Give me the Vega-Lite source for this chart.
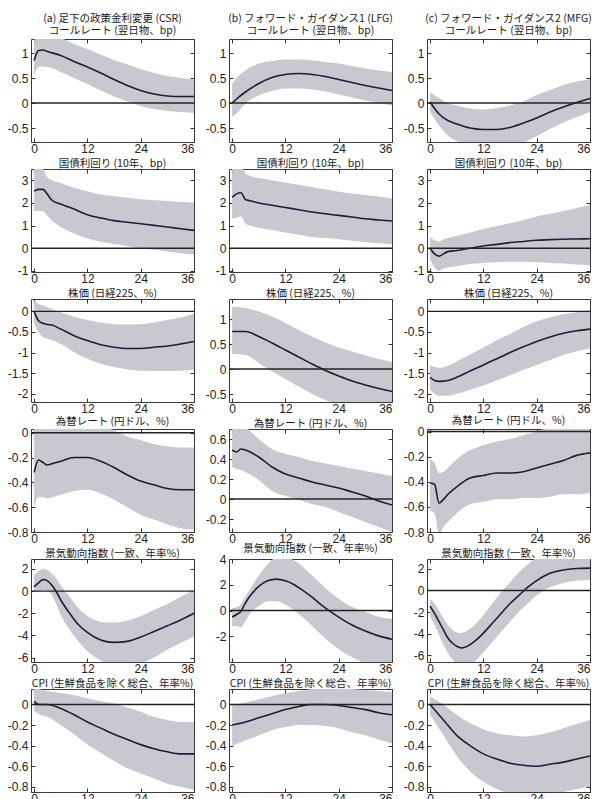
{
"$schema": "https://vega.github.io/schema/vega-lite/v6.json",
"padding": {"left": 6, "top": 13, "right": 0, "bottom": 0},
"bounds": "flush",
"data": {"values": [
{"p":"a1","m":0,"y":0.85,"lo":0.55,"hi":1.25},{"p":"a1","m":1,"y":1.05,"lo":0.72,"hi":1.35},{"p":"a1","m":2,"y":1.06,"lo":0.73,"hi":1.36},{"p":"a1","m":3,"y":1.03,"lo":0.72,"hi":1.35},{"p":"a1","m":6,"y":0.95,"lo":0.62,"hi":1.3},{"p":"a1","m":9,"y":0.83,"lo":0.5,"hi":1.18},{"p":"a1","m":12,"y":0.72,"lo":0.38,"hi":1.08},{"p":"a1","m":15,"y":0.6,"lo":0.25,"hi":0.97},{"p":"a1","m":18,"y":0.47,"lo":0.13,"hi":0.86},{"p":"a1","m":21,"y":0.35,"lo":0.03,"hi":0.77},{"p":"a1","m":24,"y":0.25,"lo":-0.06,"hi":0.68},{"p":"a1","m":27,"y":0.18,"lo":-0.12,"hi":0.6},{"p":"a1","m":30,"y":0.14,"lo":-0.16,"hi":0.54},{"p":"a1","m":33,"y":0.13,"lo":-0.18,"hi":0.5},{"p":"a1","m":36,"y":0.13,"lo":-0.2,"hi":0.47},
{"p":"b1","m":0,"y":0,"lo":-0.28,"hi":0.39},{"p":"b1","m":1,"y":0.08,"lo":-0.21,"hi":0.5},{"p":"b1","m":3,"y":0.22,"lo":-0.01,"hi":0.65},{"p":"b1","m":6,"y":0.39,"lo":0.15,"hi":0.79},{"p":"b1","m":9,"y":0.51,"lo":0.24,"hi":0.84},{"p":"b1","m":12,"y":0.57,"lo":0.29,"hi":0.87},{"p":"b1","m":15,"y":0.59,"lo":0.29,"hi":0.87},{"p":"b1","m":18,"y":0.57,"lo":0.27,"hi":0.85},{"p":"b1","m":21,"y":0.53,"lo":0.23,"hi":0.82},{"p":"b1","m":24,"y":0.47,"lo":0.17,"hi":0.79},{"p":"b1","m":27,"y":0.41,"lo":0.11,"hi":0.74},{"p":"b1","m":30,"y":0.35,"lo":0.05,"hi":0.69},{"p":"b1","m":33,"y":0.3,"lo":0.0,"hi":0.65},{"p":"b1","m":36,"y":0.25,"lo":-0.05,"hi":0.62},
{"p":"c1","m":0,"y":0.02,"lo":-0.18,"hi":0.21},{"p":"c1","m":2,"y":-0.22,"lo":-0.45,"hi":0.1},{"p":"c1","m":4,"y":-0.35,"lo":-0.65,"hi":0.0},{"p":"c1","m":6,"y":-0.42,"lo":-0.76,"hi":-0.05},{"p":"c1","m":9,"y":-0.5,"lo":-0.85,"hi":-0.11},{"p":"c1","m":12,"y":-0.53,"lo":-0.9,"hi":-0.13},{"p":"c1","m":15,"y":-0.53,"lo":-0.9,"hi":-0.1},{"p":"c1","m":18,"y":-0.49,"lo":-0.86,"hi":-0.05},{"p":"c1","m":21,"y":-0.4,"lo":-0.79,"hi":0.03},{"p":"c1","m":24,"y":-0.3,"lo":-0.66,"hi":0.16},{"p":"c1","m":27,"y":-0.18,"lo":-0.52,"hi":0.26},{"p":"c1","m":30,"y":-0.08,"lo":-0.39,"hi":0.36},{"p":"c1","m":33,"y":0.01,"lo":-0.28,"hi":0.43},{"p":"c1","m":36,"y":0.09,"lo":-0.18,"hi":0.48},
{"p":"a2","m":0,"y":2.52,"lo":1.65,"hi":3.6},{"p":"a2","m":1,"y":2.6,"lo":1.65,"hi":3.6},{"p":"a2","m":2,"y":2.6,"lo":1.65,"hi":3.5},{"p":"a2","m":3,"y":2.38,"lo":1.44,"hi":3.12},{"p":"a2","m":4,"y":2.12,"lo":1.22,"hi":3.0},{"p":"a2","m":6,"y":1.95,"lo":0.94,"hi":2.88},{"p":"a2","m":9,"y":1.73,"lo":0.65,"hi":2.67},{"p":"a2","m":12,"y":1.48,"lo":0.43,"hi":2.52},{"p":"a2","m":15,"y":1.34,"lo":0.29,"hi":2.37},{"p":"a2","m":18,"y":1.22,"lo":0.19,"hi":2.3},{"p":"a2","m":21,"y":1.15,"lo":0.1,"hi":2.23},{"p":"a2","m":24,"y":1.08,"lo":0.0,"hi":2.16},{"p":"a2","m":27,"y":1.01,"lo":-0.07,"hi":2.12},{"p":"a2","m":30,"y":0.94,"lo":-0.14,"hi":2.09},{"p":"a2","m":33,"y":0.86,"lo":-0.22,"hi":2.05},{"p":"a2","m":36,"y":0.79,"lo":-0.29,"hi":2.01},
{"p":"b2","m":0,"y":2.25,"lo":1.3,"hi":3.6},{"p":"b2","m":1,"y":2.4,"lo":1.35,"hi":3.6},{"p":"b2","m":2,"y":2.45,"lo":1.4,"hi":3.6},{"p":"b2","m":3,"y":2.15,"lo":1.1,"hi":3.3},{"p":"b2","m":4,"y":2.1,"lo":1.0,"hi":3.2},{"p":"b2","m":6,"y":2.0,"lo":0.9,"hi":3.1},{"p":"b2","m":9,"y":1.9,"lo":0.8,"hi":3.0},{"p":"b2","m":12,"y":1.8,"lo":0.7,"hi":2.9},{"p":"b2","m":15,"y":1.7,"lo":0.6,"hi":2.8},{"p":"b2","m":18,"y":1.6,"lo":0.5,"hi":2.7},{"p":"b2","m":21,"y":1.52,"lo":0.45,"hi":2.6},{"p":"b2","m":24,"y":1.45,"lo":0.4,"hi":2.5},{"p":"b2","m":27,"y":1.38,"lo":0.33,"hi":2.42},{"p":"b2","m":30,"y":1.3,"lo":0.28,"hi":2.35},{"p":"b2","m":33,"y":1.25,"lo":0.22,"hi":2.28},{"p":"b2","m":36,"y":1.2,"lo":0.17,"hi":2.2},
{"p":"c2","m":0,"y":0.0,"lo":-0.5,"hi":0.5},{"p":"c2","m":1,"y":-0.25,"lo":-0.85,"hi":0.35},{"p":"c2","m":2,"y":-0.35,"lo":-1.0,"hi":0.3},{"p":"c2","m":3,"y":-0.25,"lo":-0.9,"hi":0.4},{"p":"c2","m":4,"y":-0.15,"lo":-0.85,"hi":0.45},{"p":"c2","m":6,"y":-0.1,"lo":-0.8,"hi":0.55},{"p":"c2","m":9,"y":0.0,"lo":-0.7,"hi":0.7},{"p":"c2","m":12,"y":0.1,"lo":-0.65,"hi":0.85},{"p":"c2","m":15,"y":0.17,"lo":-0.62,"hi":0.98},{"p":"c2","m":18,"y":0.25,"lo":-0.6,"hi":1.1},{"p":"c2","m":21,"y":0.3,"lo":-0.6,"hi":1.25},{"p":"c2","m":24,"y":0.35,"lo":-0.62,"hi":1.4},{"p":"c2","m":27,"y":0.38,"lo":-0.65,"hi":1.52},{"p":"c2","m":30,"y":0.4,"lo":-0.68,"hi":1.65},{"p":"c2","m":33,"y":0.41,"lo":-0.72,"hi":1.78},{"p":"c2","m":36,"y":0.42,"lo":-0.75,"hi":1.9},
{"p":"a3","m":0,"y":0,"lo":-0.27,"hi":0.26},{"p":"a3","m":1,"y":-0.23,"lo":-0.51,"hi":0.18},{"p":"a3","m":2,"y":-0.29,"lo":-0.63,"hi":0.14},{"p":"a3","m":3,"y":-0.32,"lo":-0.67,"hi":0.1},{"p":"a3","m":4,"y":-0.33,"lo":-0.7,"hi":0.06},{"p":"a3","m":6,"y":-0.43,"lo":-0.79,"hi":-0.02},{"p":"a3","m":9,"y":-0.59,"lo":-0.99,"hi":-0.13},{"p":"a3","m":12,"y":-0.71,"lo":-1.15,"hi":-0.21},{"p":"a3","m":15,"y":-0.81,"lo":-1.27,"hi":-0.27},{"p":"a3","m":18,"y":-0.87,"lo":-1.35,"hi":-0.31},{"p":"a3","m":21,"y":-0.9,"lo":-1.41,"hi":-0.32},{"p":"a3","m":24,"y":-0.9,"lo":-1.44,"hi":-0.31},{"p":"a3","m":27,"y":-0.87,"lo":-1.45,"hi":-0.27},{"p":"a3","m":30,"y":-0.84,"lo":-1.45,"hi":-0.21},{"p":"a3","m":33,"y":-0.79,"lo":-1.44,"hi":-0.15},{"p":"a3","m":36,"y":-0.73,"lo":-1.42,"hi":-0.05},
{"p":"b3","m":0,"y":0.75,"lo":0.3,"hi":1.25},{"p":"b3","m":3,"y":0.75,"lo":0.28,"hi":1.22},{"p":"b3","m":6,"y":0.65,"lo":0.12,"hi":1.15},{"p":"b3","m":9,"y":0.52,"lo":-0.05,"hi":1.05},{"p":"b3","m":12,"y":0.38,"lo":-0.2,"hi":0.92},{"p":"b3","m":15,"y":0.24,"lo":-0.35,"hi":0.78},{"p":"b3","m":18,"y":0.1,"lo":-0.5,"hi":0.65},{"p":"b3","m":21,"y":-0.03,"lo":-0.62,"hi":0.53},{"p":"b3","m":24,"y":-0.14,"lo":-0.74,"hi":0.43},{"p":"b3","m":27,"y":-0.24,"lo":-0.84,"hi":0.35},{"p":"b3","m":30,"y":-0.32,"lo":-0.92,"hi":0.27},{"p":"b3","m":33,"y":-0.39,"lo":-0.98,"hi":0.2},{"p":"b3","m":36,"y":-0.45,"lo":-1.04,"hi":0.14},
{"p":"c3","m":0,"y":-1.6,"lo":-1.9,"hi":-1.3},{"p":"c3","m":1,"y":-1.68,"lo":-2.0,"hi":-1.35},{"p":"c3","m":2,"y":-1.7,"lo":-2.05,"hi":-1.37},{"p":"c3","m":4,"y":-1.68,"lo":-2.05,"hi":-1.32},{"p":"c3","m":6,"y":-1.6,"lo":-2.0,"hi":-1.22},{"p":"c3","m":9,"y":-1.45,"lo":-1.9,"hi":-1.05},{"p":"c3","m":12,"y":-1.3,"lo":-1.8,"hi":-0.88},{"p":"c3","m":15,"y":-1.15,"lo":-1.68,"hi":-0.7},{"p":"c3","m":18,"y":-1.0,"lo":-1.55,"hi":-0.55},{"p":"c3","m":21,"y":-0.86,"lo":-1.42,"hi":-0.38},{"p":"c3","m":24,"y":-0.73,"lo":-1.3,"hi":-0.24},{"p":"c3","m":27,"y":-0.62,"lo":-1.18,"hi":-0.14},{"p":"c3","m":30,"y":-0.53,"lo":-1.06,"hi":-0.07},{"p":"c3","m":33,"y":-0.47,"lo":-0.97,"hi":-0.02},{"p":"c3","m":36,"y":-0.43,"lo":-0.9,"hi":0.02},
{"p":"a4","m":0,"y":-0.32,"lo":-0.6,"hi":0.06},{"p":"a4","m":1,"y":-0.22,"lo":-0.52,"hi":0.06},{"p":"a4","m":2,"y":-0.24,"lo":-0.52,"hi":0.06},{"p":"a4","m":3,"y":-0.26,"lo":-0.53,"hi":0.06},{"p":"a4","m":4,"y":-0.25,"lo":-0.52,"hi":0.06},{"p":"a4","m":6,"y":-0.23,"lo":-0.5,"hi":0.06},{"p":"a4","m":9,"y":-0.2,"lo":-0.47,"hi":0.06},{"p":"a4","m":12,"y":-0.2,"lo":-0.46,"hi":0.06},{"p":"a4","m":15,"y":-0.23,"lo":-0.49,"hi":0.05},{"p":"a4","m":18,"y":-0.28,"lo":-0.54,"hi":0.02},{"p":"a4","m":21,"y":-0.34,"lo":-0.6,"hi":-0.03},{"p":"a4","m":24,"y":-0.39,"lo":-0.66,"hi":-0.06},{"p":"a4","m":27,"y":-0.42,"lo":-0.7,"hi":-0.09},{"p":"a4","m":30,"y":-0.45,"lo":-0.74,"hi":-0.11},{"p":"a4","m":33,"y":-0.46,"lo":-0.77,"hi":-0.12},{"p":"a4","m":36,"y":-0.46,"lo":-0.78,"hi":-0.12},
{"p":"b4","m":0,"y":0.49,"lo":0.32,"hi":0.75},{"p":"b4","m":1,"y":0.47,"lo":0.3,"hi":0.75},{"p":"b4","m":2,"y":0.5,"lo":0.29,"hi":0.75},{"p":"b4","m":3,"y":0.49,"lo":0.27,"hi":0.72},{"p":"b4","m":6,"y":0.42,"lo":0.19,"hi":0.6},{"p":"b4","m":9,"y":0.32,"lo":0.08,"hi":0.5},{"p":"b4","m":12,"y":0.25,"lo":0.03,"hi":0.45},{"p":"b4","m":15,"y":0.21,"lo":-0.01,"hi":0.42},{"p":"b4","m":18,"y":0.17,"lo":-0.05,"hi":0.38},{"p":"b4","m":21,"y":0.14,"lo":-0.08,"hi":0.355},{"p":"b4","m":24,"y":0.11,"lo":-0.13,"hi":0.33},{"p":"b4","m":27,"y":0.07,"lo":-0.18,"hi":0.305},{"p":"b4","m":30,"y":0.03,"lo":-0.23,"hi":0.28},{"p":"b4","m":33,"y":-0.02,"lo":-0.28,"hi":0.255},{"p":"b4","m":36,"y":-0.06,"lo":-0.33,"hi":0.23},
{"p":"c4","m":0,"y":-0.41,"lo":-0.63,"hi":-0.22},{"p":"c4","m":1,"y":-0.42,"lo":-0.65,"hi":-0.25},{"p":"c4","m":2,"y":-0.57,"lo":-0.82,"hi":-0.33},{"p":"c4","m":3,"y":-0.54,"lo":-0.76,"hi":-0.32},{"p":"c4","m":4,"y":-0.5,"lo":-0.72,"hi":-0.29},{"p":"c4","m":6,"y":-0.44,"lo":-0.65,"hi":-0.22},{"p":"c4","m":9,"y":-0.37,"lo":-0.58,"hi":-0.15},{"p":"c4","m":12,"y":-0.35,"lo":-0.56,"hi":-0.11},{"p":"c4","m":15,"y":-0.33,"lo":-0.54,"hi":-0.08},{"p":"c4","m":18,"y":-0.33,"lo":-0.54,"hi":-0.06},{"p":"c4","m":21,"y":-0.32,"lo":-0.53,"hi":-0.03},{"p":"c4","m":24,"y":-0.29,"lo":-0.53,"hi":0.0},{"p":"c4","m":27,"y":-0.26,"lo":-0.52,"hi":0.03},{"p":"c4","m":30,"y":-0.23,"lo":-0.5,"hi":0.03},{"p":"c4","m":33,"y":-0.19,"lo":-0.5,"hi":0.03},{"p":"c4","m":36,"y":-0.17,"lo":-0.49,"hi":0.03},
{"p":"a5","m":0,"y":0.39,"lo":-0.06,"hi":1.43},{"p":"a5","m":1,"y":0.75,"lo":-0.06,"hi":1.82},{"p":"a5","m":2,"y":1.05,"lo":0.09,"hi":2.03},{"p":"a5","m":3,"y":0.93,"lo":0.03,"hi":1.88},{"p":"a5","m":4,"y":0.54,"lo":-0.36,"hi":1.58},{"p":"a5","m":5,"y":-0.06,"lo":-1.2,"hi":1.13},{"p":"a5","m":6,"y":-0.8,"lo":-2.15,"hi":0.54},{"p":"a5","m":8,"y":-2.0,"lo":-3.49,"hi":-0.51},{"p":"a5","m":10,"y":-3.04,"lo":-4.54,"hi":-1.55},{"p":"a5","m":12,"y":-3.73,"lo":-5.43,"hi":-2.24},{"p":"a5","m":14,"y":-4.24,"lo":-6.03,"hi":-2.66},{"p":"a5","m":16,"y":-4.54,"lo":-6.5,"hi":-2.84},{"p":"a5","m":18,"y":-4.63,"lo":-6.7,"hi":-2.84},{"p":"a5","m":21,"y":-4.54,"lo":-6.7,"hi":-2.66},{"p":"a5","m":24,"y":-4.15,"lo":-6.5,"hi":-2.24},{"p":"a5","m":27,"y":-3.64,"lo":-6.0,"hi":-1.7},{"p":"a5","m":30,"y":-3.13,"lo":-5.28,"hi":-1.16},{"p":"a5","m":33,"y":-2.6,"lo":-4.69,"hi":-0.51},{"p":"a5","m":36,"y":-2.0,"lo":-4.09,"hi":0.09},
{"p":"b5","m":0,"y":-0.51,"lo":-1.21,"hi":0.2},{"p":"b5","m":1,"y":-0.31,"lo":-1.21,"hi":0.26},{"p":"b5","m":2,"y":-0.05,"lo":-1.33,"hi":0.51},{"p":"b5","m":3,"y":0.59,"lo":-0.82,"hi":1.1},{"p":"b5","m":4,"y":1.1,"lo":-0.26,"hi":1.62},{"p":"b5","m":6,"y":1.87,"lo":0.33,"hi":2.72},{"p":"b5","m":8,"y":2.31,"lo":0.72,"hi":3.6},{"p":"b5","m":10,"y":2.44,"lo":0.72,"hi":4.1},{"p":"b5","m":12,"y":2.31,"lo":0.46,"hi":4.1},{"p":"b5","m":14,"y":2.0,"lo":0.0,"hi":3.88},{"p":"b5","m":16,"y":1.54,"lo":-0.56,"hi":3.36},{"p":"b5","m":18,"y":1.03,"lo":-1.21,"hi":2.72},{"p":"b5","m":20,"y":0.46,"lo":-1.85,"hi":2.08},{"p":"b5","m":22,"y":-0.05,"lo":-2.49,"hi":1.44},{"p":"b5","m":24,"y":-0.51,"lo":-3.0,"hi":0.92},{"p":"b5","m":27,"y":-1.13,"lo":-3.64,"hi":0.28},{"p":"b5","m":30,"y":-1.59,"lo":-4.1,"hi":-0.1},{"p":"b5","m":33,"y":-1.97,"lo":-4.3,"hi":-0.49},{"p":"b5","m":36,"y":-2.23,"lo":-4.3,"hi":-0.64},
{"p":"c5","m":0,"y":-1.45,"lo":-2.42,"hi":-0.76},{"p":"c5","m":1,"y":-2.12,"lo":-3.18,"hi":-1.21},{"p":"c5","m":2,"y":-2.88,"lo":-4.09,"hi":-1.88},{"p":"c5","m":3,"y":-3.64,"lo":-5.0,"hi":-2.58},{"p":"c5","m":4,"y":-4.39,"lo":-5.76,"hi":-3.18},{"p":"c5","m":5,"y":-4.85,"lo":-6.36,"hi":-3.6},{"p":"c5","m":6,"y":-5.15,"lo":-6.8,"hi":-3.88},{"p":"c5","m":7,"y":-5.3,"lo":-7.0,"hi":-3.94},{"p":"c5","m":8,"y":-5.21,"lo":-7.0,"hi":-3.79},{"p":"c5","m":10,"y":-4.7,"lo":-6.6,"hi":-3.18},{"p":"c5","m":12,"y":-3.94,"lo":-5.7,"hi":-2.27},{"p":"c5","m":14,"y":-3.03,"lo":-4.75,"hi":-1.21},{"p":"c5","m":16,"y":-2.12,"lo":-3.8,"hi":-0.15},{"p":"c5","m":18,"y":-1.21,"lo":-2.88,"hi":0.76},{"p":"c5","m":20,"y":-0.45,"lo":-1.97,"hi":1.67},{"p":"c5","m":22,"y":0.3,"lo":-1.21,"hi":2.42},{"p":"c5","m":24,"y":0.91,"lo":-0.45,"hi":3.0},{"p":"c5","m":27,"y":1.58,"lo":0.3,"hi":3.2},{"p":"c5","m":30,"y":1.88,"lo":0.67,"hi":3.2},{"p":"c5","m":33,"y":2.03,"lo":0.91,"hi":3.2},{"p":"c5","m":36,"y":2.06,"lo":0.97,"hi":3.2},
{"p":"a6","m":0,"y":0.03,"lo":-0.06,"hi":0.16},{"p":"a6","m":1,"y":0.0,"lo":-0.09,"hi":0.15},{"p":"a6","m":3,"y":0.0,"lo":-0.12,"hi":0.13},{"p":"a6","m":6,"y":-0.04,"lo":-0.2,"hi":0.11},{"p":"a6","m":9,"y":-0.1,"lo":-0.29,"hi":0.09},{"p":"a6","m":12,"y":-0.17,"lo":-0.39,"hi":0.06},{"p":"a6","m":15,"y":-0.23,"lo":-0.47,"hi":0.03},{"p":"a6","m":18,"y":-0.29,"lo":-0.55,"hi":0.01},{"p":"a6","m":21,"y":-0.34,"lo":-0.62,"hi":-0.03},{"p":"a6","m":24,"y":-0.39,"lo":-0.67,"hi":-0.07},{"p":"a6","m":27,"y":-0.43,"lo":-0.72,"hi":-0.12},{"p":"a6","m":30,"y":-0.46,"lo":-0.77,"hi":-0.15},{"p":"a6","m":33,"y":-0.48,"lo":-0.8,"hi":-0.17},{"p":"a6","m":36,"y":-0.48,"lo":-0.83,"hi":-0.17},
{"p":"b6","m":0,"y":-0.2,"lo":-0.4,"hi":0.0},{"p":"b6","m":3,"y":-0.17,"lo":-0.35,"hi":0.02},{"p":"b6","m":6,"y":-0.13,"lo":-0.3,"hi":0.05},{"p":"b6","m":9,"y":-0.09,"lo":-0.25,"hi":0.08},{"p":"b6","m":12,"y":-0.05,"lo":-0.22,"hi":0.11},{"p":"b6","m":15,"y":-0.02,"lo":-0.2,"hi":0.13},{"p":"b6","m":18,"y":0.0,"lo":-0.2,"hi":0.15},{"p":"b6","m":21,"y":0.0,"lo":-0.21,"hi":0.16},{"p":"b6","m":24,"y":-0.01,"lo":-0.23,"hi":0.16},{"p":"b6","m":27,"y":-0.03,"lo":-0.27,"hi":0.15},{"p":"b6","m":30,"y":-0.05,"lo":-0.3,"hi":0.14},{"p":"b6","m":33,"y":-0.08,"lo":-0.34,"hi":0.13},{"p":"b6","m":36,"y":-0.1,"lo":-0.38,"hi":0.12},
{"p":"c6","m":0,"y":0.0,"lo":-0.1,"hi":0.08},{"p":"c6","m":3,"y":-0.15,"lo":-0.3,"hi":0.0},{"p":"c6","m":6,"y":-0.3,"lo":-0.5,"hi":-0.1},{"p":"c6","m":9,"y":-0.4,"lo":-0.65,"hi":-0.18},{"p":"c6","m":12,"y":-0.48,"lo":-0.75,"hi":-0.24},{"p":"c6","m":15,"y":-0.53,"lo":-0.82,"hi":-0.28},{"p":"c6","m":18,"y":-0.57,"lo":-0.87,"hi":-0.3},{"p":"c6","m":21,"y":-0.59,"lo":-0.9,"hi":-0.31},{"p":"c6","m":24,"y":-0.6,"lo":-0.9,"hi":-0.3},{"p":"c6","m":27,"y":-0.58,"lo":-0.88,"hi":-0.27},{"p":"c6","m":30,"y":-0.56,"lo":-0.85,"hi":-0.23},{"p":"c6","m":33,"y":-0.53,"lo":-0.82,"hi":-0.19},{"p":"c6","m":36,"y":-0.5,"lo":-0.8,"hi":-0.15}
]},
"columns": 3,
"spacing": {"row": 27, "column": 35},
"concat": [
{"title": {"text": ["(a) 足下の政策金利変更 (CSR)", "コールレート (翌日物、bp)"], "offset": 2}, "transform": [{"filter": "datum.p=='a1'"}], "layer": [
 {"mark": {"type": "area", "color": "#c8c9d0", "clip": true, "interpolate": "monotone"}, "encoding": {"x": {"field": "m", "type": "quantitative", "scale": {"domain": [-0.7, 36], "nice": false}, "axis": {"orient": "bottom", "values": [0, 12, 24, 36], "title": null, "labelPadding": 5}}, "y": {"field": "lo", "type": "quantitative", "scale": {"domain": [-0.78, 1.28], "nice": false, "zero": false}, "axis": {"orient": "left", "values": [-0.5, 0, 0.5, 1], "title": null, "labelExpr": "datum.value+''"}}, "y2": {"field": "hi"}}},
 {"mark": {"type": "line", "color": "#1d1f2e", "strokeWidth": 1.6, "clip": true, "interpolate": "monotone"}, "encoding": {"x": {"field": "m", "type": "quantitative", "axis": {"orient": "top", "values": [0, 12, 24, 36], "labels": false, "title": null, "labelPadding": 0, "minExtent": 0, "maxExtent": 0}}, "y": {"field": "y", "type": "quantitative", "axis": {"orient": "right", "values": [-0.5, 0, 0.5, 1], "labels": false, "title": null, "labelPadding": 0, "minExtent": 0, "maxExtent": 0}}}},
 {"transform": [{"filter": "datum.m==0"}], "mark": {"type": "rule", "color": "#222", "strokeWidth": 1.4}, "encoding": {"y": {"datum": 0, "type": "quantitative", "axis": null}}}
], "resolve": {"axis": {"x": "independent", "y": "independent"}}},
{"title": {"text": ["(b) フォワード・ガイダンス1 (LFG)", "コールレート (翌日物、bp)"], "offset": 2}, "transform": [{"filter": "datum.p=='b1'"}], "layer": [
 {"mark": {"type": "area", "color": "#c8c9d0", "clip": true, "interpolate": "monotone"}, "encoding": {"x": {"field": "m", "type": "quantitative", "scale": {"domain": [-0.7, 36], "nice": false}, "axis": {"orient": "bottom", "values": [0, 12, 24, 36], "title": null, "labelPadding": 5}}, "y": {"field": "lo", "type": "quantitative", "scale": {"domain": [-0.78, 1.28], "nice": false, "zero": false}, "axis": {"orient": "left", "values": [-0.5, 0, 0.5, 1], "title": null, "labelExpr": "datum.value+''"}}, "y2": {"field": "hi"}}},
 {"mark": {"type": "line", "color": "#1d1f2e", "strokeWidth": 1.6, "clip": true, "interpolate": "monotone"}, "encoding": {"x": {"field": "m", "type": "quantitative", "axis": {"orient": "top", "values": [0, 12, 24, 36], "labels": false, "title": null, "labelPadding": 0, "minExtent": 0, "maxExtent": 0}}, "y": {"field": "y", "type": "quantitative", "axis": {"orient": "right", "values": [-0.5, 0, 0.5, 1], "labels": false, "title": null, "labelPadding": 0, "minExtent": 0, "maxExtent": 0}}}},
 {"transform": [{"filter": "datum.m==0"}], "mark": {"type": "rule", "color": "#222", "strokeWidth": 1.4}, "encoding": {"y": {"datum": 0, "type": "quantitative", "axis": null}}}
], "resolve": {"axis": {"x": "independent", "y": "independent"}}},
{"title": {"text": ["(c) フォワード・ガイダンス2 (MFG)", "コールレート (翌日物、bp)"], "offset": 2}, "transform": [{"filter": "datum.p=='c1'"}], "layer": [
 {"mark": {"type": "area", "color": "#c8c9d0", "clip": true, "interpolate": "monotone"}, "encoding": {"x": {"field": "m", "type": "quantitative", "scale": {"domain": [-0.7, 36], "nice": false}, "axis": {"orient": "bottom", "values": [0, 12, 24, 36], "title": null, "labelPadding": 5}}, "y": {"field": "lo", "type": "quantitative", "scale": {"domain": [-0.78, 1.28], "nice": false, "zero": false}, "axis": {"orient": "left", "values": [-0.5, 0, 0.5, 1], "title": null, "labelExpr": "datum.value+''"}}, "y2": {"field": "hi"}}},
 {"mark": {"type": "line", "color": "#1d1f2e", "strokeWidth": 1.6, "clip": true, "interpolate": "monotone"}, "encoding": {"x": {"field": "m", "type": "quantitative", "axis": {"orient": "top", "values": [0, 12, 24, 36], "labels": false, "title": null, "labelPadding": 0, "minExtent": 0, "maxExtent": 0}}, "y": {"field": "y", "type": "quantitative", "axis": {"orient": "right", "values": [-0.5, 0, 0.5, 1], "labels": false, "title": null, "labelPadding": 0, "minExtent": 0, "maxExtent": 0}}}},
 {"transform": [{"filter": "datum.m==0"}], "mark": {"type": "rule", "color": "#222", "strokeWidth": 1.4}, "encoding": {"y": {"datum": 0, "type": "quantitative", "axis": null}}}
], "resolve": {"axis": {"x": "independent", "y": "independent"}}},
{"title": {"text": "国債利回り (10年、bp)"}, "transform": [{"filter": "datum.p=='a2'"}], "layer": [
 {"mark": {"type": "area", "color": "#c8c9d0", "clip": true, "interpolate": "monotone"}, "encoding": {"x": {"field": "m", "type": "quantitative", "scale": {"domain": [-0.7, 36], "nice": false}, "axis": {"orient": "bottom", "values": [0, 12, 24, 36], "title": null, "labelPadding": 5}}, "y": {"field": "lo", "type": "quantitative", "scale": {"domain": [-1.05, 3.5], "nice": false, "zero": false}, "axis": {"orient": "left", "values": [-1, 0, 1, 2, 3], "title": null, "labelExpr": "datum.value+''"}}, "y2": {"field": "hi"}}},
 {"mark": {"type": "line", "color": "#1d1f2e", "strokeWidth": 1.6, "clip": true, "interpolate": "monotone"}, "encoding": {"x": {"field": "m", "type": "quantitative", "axis": {"orient": "top", "values": [0, 12, 24, 36], "labels": false, "title": null, "labelPadding": 0, "minExtent": 0, "maxExtent": 0}}, "y": {"field": "y", "type": "quantitative", "axis": {"orient": "right", "values": [-1, 0, 1, 2, 3], "labels": false, "title": null, "labelPadding": 0, "minExtent": 0, "maxExtent": 0}}}},
 {"transform": [{"filter": "datum.m==0"}], "mark": {"type": "rule", "color": "#222", "strokeWidth": 1.4}, "encoding": {"y": {"datum": 0, "type": "quantitative", "axis": null}}}
], "resolve": {"axis": {"x": "independent", "y": "independent"}}},
{"title": {"text": "国債利回り (10年、bp)"}, "transform": [{"filter": "datum.p=='b2'"}], "layer": [
 {"mark": {"type": "area", "color": "#c8c9d0", "clip": true, "interpolate": "monotone"}, "encoding": {"x": {"field": "m", "type": "quantitative", "scale": {"domain": [-0.7, 36], "nice": false}, "axis": {"orient": "bottom", "values": [0, 12, 24, 36], "title": null, "labelPadding": 5}}, "y": {"field": "lo", "type": "quantitative", "scale": {"domain": [-1.05, 3.5], "nice": false, "zero": false}, "axis": {"orient": "left", "values": [-1, 0, 1, 2, 3], "title": null, "labelExpr": "datum.value+''"}}, "y2": {"field": "hi"}}},
 {"mark": {"type": "line", "color": "#1d1f2e", "strokeWidth": 1.6, "clip": true, "interpolate": "monotone"}, "encoding": {"x": {"field": "m", "type": "quantitative", "axis": {"orient": "top", "values": [0, 12, 24, 36], "labels": false, "title": null, "labelPadding": 0, "minExtent": 0, "maxExtent": 0}}, "y": {"field": "y", "type": "quantitative", "axis": {"orient": "right", "values": [-1, 0, 1, 2, 3], "labels": false, "title": null, "labelPadding": 0, "minExtent": 0, "maxExtent": 0}}}},
 {"transform": [{"filter": "datum.m==0"}], "mark": {"type": "rule", "color": "#222", "strokeWidth": 1.4}, "encoding": {"y": {"datum": 0, "type": "quantitative", "axis": null}}}
], "resolve": {"axis": {"x": "independent", "y": "independent"}}},
{"title": {"text": "国債利回り (10年、bp)"}, "transform": [{"filter": "datum.p=='c2'"}], "layer": [
 {"mark": {"type": "area", "color": "#c8c9d0", "clip": true, "interpolate": "monotone"}, "encoding": {"x": {"field": "m", "type": "quantitative", "scale": {"domain": [-0.7, 36], "nice": false}, "axis": {"orient": "bottom", "values": [0, 12, 24, 36], "title": null, "labelPadding": 5}}, "y": {"field": "lo", "type": "quantitative", "scale": {"domain": [-1.05, 3.5], "nice": false, "zero": false}, "axis": {"orient": "left", "values": [-1, 0, 1, 2, 3], "title": null, "labelExpr": "datum.value+''"}}, "y2": {"field": "hi"}}},
 {"mark": {"type": "line", "color": "#1d1f2e", "strokeWidth": 1.6, "clip": true, "interpolate": "monotone"}, "encoding": {"x": {"field": "m", "type": "quantitative", "axis": {"orient": "top", "values": [0, 12, 24, 36], "labels": false, "title": null, "labelPadding": 0, "minExtent": 0, "maxExtent": 0}}, "y": {"field": "y", "type": "quantitative", "axis": {"orient": "right", "values": [-1, 0, 1, 2, 3], "labels": false, "title": null, "labelPadding": 0, "minExtent": 0, "maxExtent": 0}}}},
 {"transform": [{"filter": "datum.m==0"}], "mark": {"type": "rule", "color": "#222", "strokeWidth": 1.4}, "encoding": {"y": {"datum": 0, "type": "quantitative", "axis": null}}}
], "resolve": {"axis": {"x": "independent", "y": "independent"}}},
{"title": {"text": "株価 (日経225、%)"}, "transform": [{"filter": "datum.p=='a3'"}], "layer": [
 {"mark": {"type": "area", "color": "#c8c9d0", "clip": true, "interpolate": "monotone"}, "encoding": {"x": {"field": "m", "type": "quantitative", "scale": {"domain": [-0.7, 36], "nice": false}, "axis": {"orient": "bottom", "values": [0, 12, 24, 36], "title": null, "labelPadding": 5}}, "y": {"field": "lo", "type": "quantitative", "scale": {"domain": [-2.2, 0.3], "nice": false, "zero": false}, "axis": {"orient": "left", "values": [-2, -1.5, -1, -0.5, 0], "title": null, "labelExpr": "datum.value+''"}}, "y2": {"field": "hi"}}},
 {"mark": {"type": "line", "color": "#1d1f2e", "strokeWidth": 1.6, "clip": true, "interpolate": "monotone"}, "encoding": {"x": {"field": "m", "type": "quantitative", "axis": {"orient": "top", "values": [0, 12, 24, 36], "labels": false, "title": null, "labelPadding": 0, "minExtent": 0, "maxExtent": 0}}, "y": {"field": "y", "type": "quantitative", "axis": {"orient": "right", "values": [-2, -1.5, -1, -0.5, 0], "labels": false, "title": null, "labelPadding": 0, "minExtent": 0, "maxExtent": 0}}}},
 {"transform": [{"filter": "datum.m==0"}], "mark": {"type": "rule", "color": "#222", "strokeWidth": 1.4}, "encoding": {"y": {"datum": 0, "type": "quantitative", "axis": null}}}
], "resolve": {"axis": {"x": "independent", "y": "independent"}}},
{"title": {"text": "株価 (日経225、%)"}, "transform": [{"filter": "datum.p=='b3'"}], "layer": [
 {"mark": {"type": "area", "color": "#c8c9d0", "clip": true, "interpolate": "monotone"}, "encoding": {"x": {"field": "m", "type": "quantitative", "scale": {"domain": [-0.7, 36], "nice": false}, "axis": {"orient": "bottom", "values": [0, 12, 24, 36], "title": null, "labelPadding": 5}}, "y": {"field": "lo", "type": "quantitative", "scale": {"domain": [-0.66, 1.4], "nice": false, "zero": false}, "axis": {"orient": "left", "values": [-0.5, 0, 0.5, 1], "title": null, "labelExpr": "datum.value+''"}}, "y2": {"field": "hi"}}},
 {"mark": {"type": "line", "color": "#1d1f2e", "strokeWidth": 1.6, "clip": true, "interpolate": "monotone"}, "encoding": {"x": {"field": "m", "type": "quantitative", "axis": {"orient": "top", "values": [0, 12, 24, 36], "labels": false, "title": null, "labelPadding": 0, "minExtent": 0, "maxExtent": 0}}, "y": {"field": "y", "type": "quantitative", "axis": {"orient": "right", "values": [-0.5, 0, 0.5, 1], "labels": false, "title": null, "labelPadding": 0, "minExtent": 0, "maxExtent": 0}}}},
 {"transform": [{"filter": "datum.m==0"}], "mark": {"type": "rule", "color": "#222", "strokeWidth": 1.4}, "encoding": {"y": {"datum": 0, "type": "quantitative", "axis": null}}}
], "resolve": {"axis": {"x": "independent", "y": "independent"}}},
{"title": {"text": "株価 (日経225、%)"}, "transform": [{"filter": "datum.p=='c3'"}], "layer": [
 {"mark": {"type": "area", "color": "#c8c9d0", "clip": true, "interpolate": "monotone"}, "encoding": {"x": {"field": "m", "type": "quantitative", "scale": {"domain": [-0.7, 36], "nice": false}, "axis": {"orient": "bottom", "values": [0, 12, 24, 36], "title": null, "labelPadding": 5}}, "y": {"field": "lo", "type": "quantitative", "scale": {"domain": [-2.2, 0.3], "nice": false, "zero": false}, "axis": {"orient": "left", "values": [-2, -1.5, -1, -0.5, 0], "title": null, "labelExpr": "datum.value+''"}}, "y2": {"field": "hi"}}},
 {"mark": {"type": "line", "color": "#1d1f2e", "strokeWidth": 1.6, "clip": true, "interpolate": "monotone"}, "encoding": {"x": {"field": "m", "type": "quantitative", "axis": {"orient": "top", "values": [0, 12, 24, 36], "labels": false, "title": null, "labelPadding": 0, "minExtent": 0, "maxExtent": 0}}, "y": {"field": "y", "type": "quantitative", "axis": {"orient": "right", "values": [-2, -1.5, -1, -0.5, 0], "labels": false, "title": null, "labelPadding": 0, "minExtent": 0, "maxExtent": 0}}}},
 {"transform": [{"filter": "datum.m==0"}], "mark": {"type": "rule", "color": "#222", "strokeWidth": 1.4}, "encoding": {"y": {"datum": 0, "type": "quantitative", "axis": null}}}
], "resolve": {"axis": {"x": "independent", "y": "independent"}}},
{"title": {"text": "為替レート (円ドル、%)"}, "transform": [{"filter": "datum.p=='a4'"}], "layer": [
 {"mark": {"type": "area", "color": "#c8c9d0", "clip": true, "interpolate": "monotone"}, "encoding": {"x": {"field": "m", "type": "quantitative", "scale": {"domain": [-0.7, 36], "nice": false}, "axis": {"orient": "bottom", "values": [0, 12, 24, 36], "title": null, "labelPadding": 5}}, "y": {"field": "lo", "type": "quantitative", "scale": {"domain": [-0.8, 0.03], "nice": false, "zero": false}, "axis": {"orient": "left", "values": [-0.8, -0.6, -0.4, -0.2, 0], "title": null, "labelExpr": "datum.value+''"}}, "y2": {"field": "hi"}}},
 {"mark": {"type": "line", "color": "#1d1f2e", "strokeWidth": 1.6, "clip": true, "interpolate": "monotone"}, "encoding": {"x": {"field": "m", "type": "quantitative", "axis": {"orient": "top", "values": [0, 12, 24, 36], "labels": false, "title": null, "labelPadding": 0, "minExtent": 0, "maxExtent": 0}}, "y": {"field": "y", "type": "quantitative", "axis": {"orient": "right", "values": [-0.8, -0.6, -0.4, -0.2, 0], "labels": false, "title": null, "labelPadding": 0, "minExtent": 0, "maxExtent": 0}}}},
 {"transform": [{"filter": "datum.m==0"}], "mark": {"type": "rule", "color": "#222", "strokeWidth": 1.4}, "encoding": {"y": {"datum": 0, "type": "quantitative", "axis": null}}}
], "resolve": {"axis": {"x": "independent", "y": "independent"}}},
{"title": {"text": "為替レート (円ドル、%)"}, "transform": [{"filter": "datum.p=='b4'"}], "layer": [
 {"mark": {"type": "area", "color": "#c8c9d0", "clip": true, "interpolate": "monotone"}, "encoding": {"x": {"field": "m", "type": "quantitative", "scale": {"domain": [-0.7, 36], "nice": false}, "axis": {"orient": "bottom", "values": [0, 12, 24, 36], "title": null, "labelPadding": 5}}, "y": {"field": "lo", "type": "quantitative", "scale": {"domain": [-0.33, 0.7], "nice": false, "zero": false}, "axis": {"orient": "left", "values": [-0.2, 0, 0.2, 0.4, 0.6], "title": null, "labelExpr": "datum.value+''"}}, "y2": {"field": "hi"}}},
 {"mark": {"type": "line", "color": "#1d1f2e", "strokeWidth": 1.6, "clip": true, "interpolate": "monotone"}, "encoding": {"x": {"field": "m", "type": "quantitative", "axis": {"orient": "top", "values": [0, 12, 24, 36], "labels": false, "title": null, "labelPadding": 0, "minExtent": 0, "maxExtent": 0}}, "y": {"field": "y", "type": "quantitative", "axis": {"orient": "right", "values": [-0.2, 0, 0.2, 0.4, 0.6], "labels": false, "title": null, "labelPadding": 0, "minExtent": 0, "maxExtent": 0}}}},
 {"transform": [{"filter": "datum.m==0"}], "mark": {"type": "rule", "color": "#222", "strokeWidth": 1.4}, "encoding": {"y": {"datum": 0, "type": "quantitative", "axis": null}}}
], "resolve": {"axis": {"x": "independent", "y": "independent"}}},
{"title": {"text": "為替レート (円ドル、%)"}, "transform": [{"filter": "datum.p=='c4'"}], "layer": [
 {"mark": {"type": "area", "color": "#c8c9d0", "clip": true, "interpolate": "monotone"}, "encoding": {"x": {"field": "m", "type": "quantitative", "scale": {"domain": [-0.7, 36], "nice": false}, "axis": {"orient": "bottom", "values": [0, 12, 24, 36], "title": null, "labelPadding": 5}}, "y": {"field": "lo", "type": "quantitative", "scale": {"domain": [-0.8, 0.02], "nice": false, "zero": false}, "axis": {"orient": "left", "values": [-0.8, -0.6, -0.4, -0.2, 0], "title": null, "labelExpr": "datum.value+''"}}, "y2": {"field": "hi"}}},
 {"mark": {"type": "line", "color": "#1d1f2e", "strokeWidth": 1.6, "clip": true, "interpolate": "monotone"}, "encoding": {"x": {"field": "m", "type": "quantitative", "axis": {"orient": "top", "values": [0, 12, 24, 36], "labels": false, "title": null, "labelPadding": 0, "minExtent": 0, "maxExtent": 0}}, "y": {"field": "y", "type": "quantitative", "axis": {"orient": "right", "values": [-0.8, -0.6, -0.4, -0.2, 0], "labels": false, "title": null, "labelPadding": 0, "minExtent": 0, "maxExtent": 0}}}},
 {"transform": [{"filter": "datum.m==0"}], "mark": {"type": "rule", "color": "#222", "strokeWidth": 1.4}, "encoding": {"y": {"datum": 0, "type": "quantitative", "axis": null}}}
], "resolve": {"axis": {"x": "independent", "y": "independent"}}},
{"title": {"text": "景気動向指数 (一致、年率%)"}, "transform": [{"filter": "datum.p=='a5'"}], "layer": [
 {"mark": {"type": "area", "color": "#c8c9d0", "clip": true, "interpolate": "monotone"}, "encoding": {"x": {"field": "m", "type": "quantitative", "scale": {"domain": [-0.7, 36], "nice": false}, "axis": {"orient": "bottom", "values": [0, 12, 24, 36], "title": null, "labelPadding": 5}}, "y": {"field": "lo", "type": "quantitative", "scale": {"domain": [-6.4, 2.9], "nice": false, "zero": false}, "axis": {"orient": "left", "values": [-6, -4, -2, 0, 2], "title": null, "labelExpr": "datum.value+''"}}, "y2": {"field": "hi"}}},
 {"mark": {"type": "line", "color": "#1d1f2e", "strokeWidth": 1.6, "clip": true, "interpolate": "monotone"}, "encoding": {"x": {"field": "m", "type": "quantitative", "axis": {"orient": "top", "values": [0, 12, 24, 36], "labels": false, "title": null, "labelPadding": 0, "minExtent": 0, "maxExtent": 0}}, "y": {"field": "y", "type": "quantitative", "axis": {"orient": "right", "values": [-6, -4, -2, 0, 2], "labels": false, "title": null, "labelPadding": 0, "minExtent": 0, "maxExtent": 0}}}},
 {"transform": [{"filter": "datum.m==0"}], "mark": {"type": "rule", "color": "#222", "strokeWidth": 1.4}, "encoding": {"y": {"datum": 0, "type": "quantitative", "axis": null}}}
], "resolve": {"axis": {"x": "independent", "y": "independent"}}},
{"title": {"text": "景気動向指数 (一致、年率%)"}, "transform": [{"filter": "datum.p=='b5'"}], "layer": [
 {"mark": {"type": "area", "color": "#c8c9d0", "clip": true, "interpolate": "monotone"}, "encoding": {"x": {"field": "m", "type": "quantitative", "scale": {"domain": [-0.7, 36], "nice": false}, "axis": {"orient": "bottom", "values": [0, 12, 24, 36], "title": null, "labelPadding": 5}}, "y": {"field": "lo", "type": "quantitative", "scale": {"domain": [-4, 4], "nice": false, "zero": false}, "axis": {"orient": "left", "values": [-2, 0, 2, 4], "title": null, "labelExpr": "datum.value+''"}}, "y2": {"field": "hi"}}},
 {"mark": {"type": "line", "color": "#1d1f2e", "strokeWidth": 1.6, "clip": true, "interpolate": "monotone"}, "encoding": {"x": {"field": "m", "type": "quantitative", "axis": {"orient": "top", "values": [0, 12, 24, 36], "labels": false, "title": null, "labelPadding": 0, "minExtent": 0, "maxExtent": 0}}, "y": {"field": "y", "type": "quantitative", "axis": {"orient": "right", "values": [-2, 0, 2, 4], "labels": false, "title": null, "labelPadding": 0, "minExtent": 0, "maxExtent": 0}}}},
 {"transform": [{"filter": "datum.m==0"}], "mark": {"type": "rule", "color": "#222", "strokeWidth": 1.4}, "encoding": {"y": {"datum": 0, "type": "quantitative", "axis": null}}}
], "resolve": {"axis": {"x": "independent", "y": "independent"}}},
{"title": {"text": "景気動向指数 (一致、年率%)"}, "transform": [{"filter": "datum.p=='c5'"}], "layer": [
 {"mark": {"type": "area", "color": "#c8c9d0", "clip": true, "interpolate": "monotone"}, "encoding": {"x": {"field": "m", "type": "quantitative", "scale": {"domain": [-0.7, 36], "nice": false}, "axis": {"orient": "bottom", "values": [0, 12, 24, 36], "title": null, "labelPadding": 5}}, "y": {"field": "lo", "type": "quantitative", "scale": {"domain": [-6.6, 2.9], "nice": false, "zero": false}, "axis": {"orient": "left", "values": [-6, -4, -2, 0, 2], "title": null, "labelExpr": "datum.value+''"}}, "y2": {"field": "hi"}}},
 {"mark": {"type": "line", "color": "#1d1f2e", "strokeWidth": 1.6, "clip": true, "interpolate": "monotone"}, "encoding": {"x": {"field": "m", "type": "quantitative", "axis": {"orient": "top", "values": [0, 12, 24, 36], "labels": false, "title": null, "labelPadding": 0, "minExtent": 0, "maxExtent": 0}}, "y": {"field": "y", "type": "quantitative", "axis": {"orient": "right", "values": [-6, -4, -2, 0, 2], "labels": false, "title": null, "labelPadding": 0, "minExtent": 0, "maxExtent": 0}}}},
 {"transform": [{"filter": "datum.m==0"}], "mark": {"type": "rule", "color": "#222", "strokeWidth": 1.4}, "encoding": {"y": {"datum": 0, "type": "quantitative", "axis": null}}}
], "resolve": {"axis": {"x": "independent", "y": "independent"}}},
{"title": {"text": "CPI (生鮮食品を除く総合、年率%)"}, "transform": [{"filter": "datum.p=='a6'"}], "layer": [
 {"mark": {"type": "area", "color": "#c8c9d0", "clip": true, "interpolate": "monotone"}, "encoding": {"x": {"field": "m", "type": "quantitative", "scale": {"domain": [-0.7, 36], "nice": false}, "axis": {"orient": "bottom", "values": [0, 12, 24, 36], "title": null, "labelPadding": 5}}, "y": {"field": "lo", "type": "quantitative", "scale": {"domain": [-0.85, 0.15], "nice": false, "zero": false}, "axis": {"orient": "left", "values": [-0.8, -0.6, -0.4, -0.2, 0], "title": null, "labelExpr": "datum.value+''"}}, "y2": {"field": "hi"}}},
 {"mark": {"type": "line", "color": "#1d1f2e", "strokeWidth": 1.6, "clip": true, "interpolate": "monotone"}, "encoding": {"x": {"field": "m", "type": "quantitative", "axis": {"orient": "top", "values": [0, 12, 24, 36], "labels": false, "title": null, "labelPadding": 0, "minExtent": 0, "maxExtent": 0}}, "y": {"field": "y", "type": "quantitative", "axis": {"orient": "right", "values": [-0.8, -0.6, -0.4, -0.2, 0], "labels": false, "title": null, "labelPadding": 0, "minExtent": 0, "maxExtent": 0}}}},
 {"transform": [{"filter": "datum.m==0"}], "mark": {"type": "rule", "color": "#222", "strokeWidth": 1.4}, "encoding": {"y": {"datum": 0, "type": "quantitative", "axis": null}}}
], "resolve": {"axis": {"x": "independent", "y": "independent"}}},
{"title": {"text": "CPI (生鮮食品を除く総合、年率%)"}, "transform": [{"filter": "datum.p=='b6'"}], "layer": [
 {"mark": {"type": "area", "color": "#c8c9d0", "clip": true, "interpolate": "monotone"}, "encoding": {"x": {"field": "m", "type": "quantitative", "scale": {"domain": [-0.7, 36], "nice": false}, "axis": {"orient": "bottom", "values": [0, 12, 24, 36], "title": null, "labelPadding": 5}}, "y": {"field": "lo", "type": "quantitative", "scale": {"domain": [-0.85, 0.15], "nice": false, "zero": false}, "axis": {"orient": "left", "values": [-0.8, -0.6, -0.4, -0.2, 0], "title": null, "labelExpr": "datum.value+''"}}, "y2": {"field": "hi"}}},
 {"mark": {"type": "line", "color": "#1d1f2e", "strokeWidth": 1.6, "clip": true, "interpolate": "monotone"}, "encoding": {"x": {"field": "m", "type": "quantitative", "axis": {"orient": "top", "values": [0, 12, 24, 36], "labels": false, "title": null, "labelPadding": 0, "minExtent": 0, "maxExtent": 0}}, "y": {"field": "y", "type": "quantitative", "axis": {"orient": "right", "values": [-0.8, -0.6, -0.4, -0.2, 0], "labels": false, "title": null, "labelPadding": 0, "minExtent": 0, "maxExtent": 0}}}},
 {"transform": [{"filter": "datum.m==0"}], "mark": {"type": "rule", "color": "#222", "strokeWidth": 1.4}, "encoding": {"y": {"datum": 0, "type": "quantitative", "axis": null}}}
], "resolve": {"axis": {"x": "independent", "y": "independent"}}},
{"title": {"text": "CPI (生鮮食品を除く総合、年率%)"}, "transform": [{"filter": "datum.p=='c6'"}], "layer": [
 {"mark": {"type": "area", "color": "#c8c9d0", "clip": true, "interpolate": "monotone"}, "encoding": {"x": {"field": "m", "type": "quantitative", "scale": {"domain": [-0.7, 36], "nice": false}, "axis": {"orient": "bottom", "values": [0, 12, 24, 36], "title": null, "labelPadding": 5}}, "y": {"field": "lo", "type": "quantitative", "scale": {"domain": [-0.85, 0.15], "nice": false, "zero": false}, "axis": {"orient": "left", "values": [-0.8, -0.6, -0.4, -0.2, 0], "title": null, "labelExpr": "datum.value+''"}}, "y2": {"field": "hi"}}},
 {"mark": {"type": "line", "color": "#1d1f2e", "strokeWidth": 1.6, "clip": true, "interpolate": "monotone"}, "encoding": {"x": {"field": "m", "type": "quantitative", "axis": {"orient": "top", "values": [0, 12, 24, 36], "labels": false, "title": null, "labelPadding": 0, "minExtent": 0, "maxExtent": 0}}, "y": {"field": "y", "type": "quantitative", "axis": {"orient": "right", "values": [-0.8, -0.6, -0.4, -0.2, 0], "labels": false, "title": null, "labelPadding": 0, "minExtent": 0, "maxExtent": 0}}}},
 {"transform": [{"filter": "datum.m==0"}], "mark": {"type": "rule", "color": "#222", "strokeWidth": 1.4}, "encoding": {"y": {"datum": 0, "type": "quantitative", "axis": null}}}
], "resolve": {"axis": {"x": "independent", "y": "independent"}}}
],
"config": {
 "view": {"continuousWidth": 163, "continuousHeight": 103, "stroke": "#3a3a3a", "strokeWidth": 1},
 "axis": {"grid": false, "domain": false, "tickSize": -4, "tickColor": "#333", "labelFont": "Liberation Sans", "labelFontSize": 12, "labelColor": "#222", "labelPadding": 7},
 "title": {"font": "Noto Sans CJK JP", "fontSize": 10.5, "fontWeight": "normal", "color": "#1a1a1a", "offset": -1, "lineHeight": 12, "anchor": "middle", "frame": "group"}
}
}
